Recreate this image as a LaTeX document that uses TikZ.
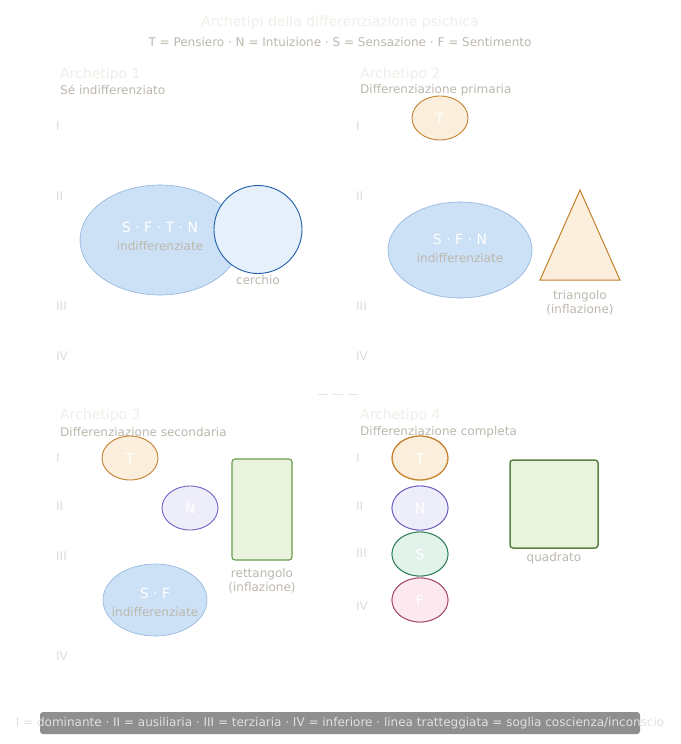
\documentclass[tikz,border=0pt]{standalone}
\usepackage{fontspec}
\setmainfont{DejaVu Sans}
\usetikzlibrary{shapes.geometric}
\definecolor{titlec}{HTML}{F0EEE8}
\definecolor{subc}{HTML}{BDB8AD}
\definecolor{romc}{HTML}{DCDCDC}
\definecolor{blfill}{HTML}{CCE1F6}
\definecolor{bldraw}{HTML}{8DB3DE}
\definecolor{cfill}{HTML}{E6F0FB}
\definecolor{cdraw}{HTML}{1F5FA8}
\definecolor{tfill}{HTML}{FBEEDC}
\definecolor{tdraw}{HTML}{C4822E}
\definecolor{nfill}{HTML}{EEEEFB}
\definecolor{ndraw}{HTML}{6F62C8}
\definecolor{sfill}{HTML}{E2F3EC}
\definecolor{sdraw}{HTML}{2E7D5B}
\definecolor{ffill}{HTML}{FBE9EF}
\definecolor{fdraw}{HTML}{A84A6A}
\definecolor{gfill}{HTML}{E9F3DE}
\definecolor{gdraw}{HTML}{6A9A4A}
\definecolor{footc}{HTML}{8F8F8F}
\tikzset{
  ttlstyle/.style={text=titlec, font=\fontsize{14}{16}\selectfont, inner sep=0pt},
  arch/.style={text=titlec, font=\fontsize{14}{16}\selectfont, anchor=west, inner sep=0pt},
  subt/.style={text=subc, font=\fontsize{12}{14}\selectfont, anchor=west, inner sep=0pt},
  rom/.style={text=romc, font=\fontsize{12}{14}\selectfont, anchor=west, inner sep=0pt},
  capt/.style={text=subc, font=\fontsize{12}{14}\selectfont, inner sep=0pt, align=center},
  lett/.style={text=white, font=\fontsize{14}{16}\selectfont, inner sep=0pt},
  blob/.style={fill=blfill, draw=bldraw, line width=0.6pt},
  fn/.style={ellipse, minimum width=56pt, minimum height=44pt, inner sep=0pt, line width=0.9pt},
  fT/.style={fn, fill=tfill, draw=tdraw},
  fN/.style={fn, fill=nfill, draw=ndraw},
  fS/.style={fn, fill=sfill, draw=sdraw},
  fF/.style={fn, fill=ffill, draw=fdraw},
  linkline/.style={draw=black!22, line width=1.2pt},
}
\begin{document}
\begin{tikzpicture}[x=1pt,y=-1pt]
\useasboundingbox (0,0) rectangle (680,744);
\fill[white] (0,0) rectangle (680,744);
% header
\node[ttlstyle] (ttl) at (340,23) {Archetipi della differenziazione psichica};
\node[text=subc, font=\fontsize{12}{14}\selectfont, inner sep=0pt] (leg) at (340,42) {T = Pensiero · N = Intuizione · S = Sensazione · F = Sentimento};

% ---------- Panel 1 ----------
\node[arch] (a1) at (60,74.5) {Archetipo 1};
\node[subt] (s1) at (60,90) {Sé indifferenziato};
\node[rom] (r1a) at (56,126) {I};
\node[rom] (r1b) at (56,196) {II};
\node[rom] (r1c) at (56,306) {III};
\node[rom] (r1d) at (56,356) {IV};
\draw[blob] (160,240) ellipse [x radius=80, y radius=55];
\coordinate (e1) at (160,240);
\node[lett] (e1t) at (160,227) {S · F · T · N};
\node[capt] (e1c) at (160,246) {indifferenziate};
\node[circle, minimum size=88pt, inner sep=0pt, fill=cfill, draw=cdraw, line width=0.9pt] (circ) at (258,229.5) {};
\node[capt] (circc) at (258,280) {cerchio};

% ---------- Panel 2 ----------
\node[arch] (a2) at (360,74.5) {Archetipo 2};
\node[subt] (s2) at (360,90) {Differenziazione primaria};
\node[rom] (r2a) at (356,126) {I};
\node[rom] (r2b) at (356,196) {II};
\node[rom] (r2c) at (356,306) {III};
\node[rom] (r2d) at (356,356) {IV};
\node[fT] (t2) at (440,118) {};
\node[lett] at (t2) {T};
\draw[blob] (460,250) ellipse [x radius=72, y radius=48];
\node[lett] (e2t) at (460,239) {S · F · N};
\node[capt] (e2c) at (460,258) {indifferenziate};
\draw[fill=tfill, draw=tdraw, line width=1pt, line join=miter] (580,190) -- (620,280) -- (540,280) -- cycle;
\coordinate (tri) at (580,250);
\node[capt] (tric) at (580,303) {triangolo\\(inflazione)};

% threshold dashed line
\coordinate (d1) at (318,394);
\coordinate (d2) at (362,394);
\draw[draw=black!10, line width=0.8pt, dash pattern=on 10pt off 5pt] (d1) -- (d2);

% ---------- Panel 3 ----------
\node[arch] (a3) at (60,415.5) {Archetipo 3};
\node[subt] (s3) at (60,432) {Differenziazione secondaria};
\node[rom] (r3a) at (56,458) {I};
\node[rom] (r3b) at (56,506) {II};
\node[rom] (r3c) at (56,556) {III};
\node[rom] (r3d) at (56,656) {IV};
\node[fT] (t3) at (130,458) {};
\node[lett] at (t3) {T};
\node[fN] (n3) at (190,508) {};
\node[lett] at (n3) {N};
\node[draw=gdraw, fill=gfill, line width=1.1pt, rounded corners=3pt, minimum width=60pt, minimum height=101pt, inner sep=0pt] (rect) at (262,509.5) {};
\node[capt] (rectc) at (262,581) {rettangolo\\(inflazione)};
\draw[blob] (155,600) ellipse [x radius=52, y radius=36];
\node[lett] (e3t) at (155,593) {S · F};
\node[capt] (e3c) at (155,612) {indifferenziate};

% ---------- Panel 4 ----------
\node[arch] (a4) at (360,415.5) {Archetipo 4};
\node[subt] (s4) at (360,432) {Differenziazione completa};
\node[rom] (r4a) at (356,458) {I};
\node[rom] (r4b) at (356,506) {II};
\node[rom] (r4c) at (356,553) {III};
\node[rom] (r4d) at (356,606) {IV};
\node[fN] (n4) at (420,508) {};
\node[fS] (s4e) at (420,554) {};
\node[fF] (f4) at (420,600) {};
\draw[linkline] (n4.south) -- (s4e.north);
\draw[linkline] (s4e.south) -- (f4.north);
\node[fN] at (420,508) {};
\node[fS] at (420,554) {};
\node[fF] at (420,600) {};
\node[fT, line width=1.3pt] (t4) at (420,458) {};
\node[lett] at (t4) {T};
\node[lett] at (n4) {N};
\node[lett] at (s4e) {S};
\node[lett] at (f4) {F};
\node[draw=gdraw!85!black, fill=gfill, line width=1.5pt, rounded corners=3pt, minimum width=88pt, minimum height=88pt, inner sep=0pt] (sq) at (554,504) {};
\node[capt] (sqc) at (554,558) {quadrato};

% footer
\fill[footc, rounded corners=3pt] (40,712) rectangle (640,734);
\coordinate (footbox) at (340,723);
\node[text=black!12, font=\fontsize{12}{14}\selectfont, inner sep=0pt] (foot) at (340,723) {I = dominante · II = ausiliaria · III = terziaria · IV = inferiore · linea tratteggiata = soglia coscienza/inconscio};
\end{tikzpicture}
\end{document}
